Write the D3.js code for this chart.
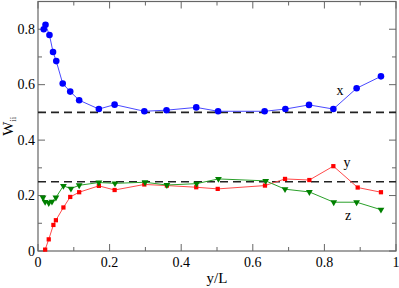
<!DOCTYPE html>
<html>
<head>
<meta charset="utf-8">
<script src="https://cdn.jsdelivr.net/npm/d3@7"></script>
<style>
  body { margin: 0; background: white; }
  svg { display: block; }
</style>
</head>
<body>
<div id="chart"></div>
<script>
// Données
const xX = [0.016, 0.021, 0.032, 0.042, 0.051, 0.069, 0.090, 0.115, 0.170, 0.214, 0.297, 0.359, 0.442, 0.503, 0.633, 0.691, 0.757, 0.825, 0.890, 0.958];
const wX = [0.800, 0.816, 0.779, 0.718, 0.685, 0.604, 0.575, 0.544, 0.512, 0.528, 0.504, 0.508, 0.518, 0.504, 0.504, 0.512, 0.527, 0.512, 0.587, 0.630];

const xY = [0.020, 0.030, 0.043, 0.050, 0.071, 0.090, 0.115, 0.170, 0.214, 0.297, 0.360, 0.442, 0.502, 0.634, 0.690, 0.758, 0.825, 0.893, 0.958];
const wY = [0.005, 0.042, 0.094, 0.111, 0.157, 0.195, 0.212, 0.235, 0.220, 0.240, 0.236, 0.230, 0.224, 0.236, 0.260, 0.256, 0.306, 0.229, 0.212];

const xZ = [0.014, 0.020, 0.030, 0.039, 0.050, 0.071, 0.092, 0.115, 0.170, 0.215, 0.299, 0.360, 0.443, 0.504, 0.636, 0.690, 0.758, 0.826, 0.890, 0.958];
const wZ = [0.193, 0.177, 0.173, 0.178, 0.193, 0.235, 0.225, 0.237, 0.247, 0.244, 0.248, 0.238, 0.243, 0.260, 0.253, 0.223, 0.213, 0.176, 0.176, 0.149];

const refLines = [0.5, 0.25];
const xTicks = [0, 0.2, 0.4, 0.6, 0.8, 1];
const yTicks = [0, 0.2, 0.4, 0.6, 0.8];

const W = 399, H = 288;
const marge = { left: 38, right: 3, top: 1.5, bottom: 37 };
const police = "'Liberation Serif', 'Times New Roman', 'DejaVu Serif', serif";

const svg = d3.select("#chart").append("svg")
    .attr("width", W).attr("height", H)
    .attr("font-family", police);

const x = d3.scaleLinear().domain([0, 1]).range([marge.left, W - marge.right]);
const y = d3.scaleLinear().domain([0, 0.9]).range([H - marge.bottom, marge.top]);

// Cadre
const gris = "#666";
svg.append("rect")
    .attr("x", x(0)).attr("y", y(0.9))
    .attr("width", x(1) - x(0)).attr("height", y(0) - y(0.9))
    .attr("fill", "none").attr("stroke", gris).attr("stroke-width", 1.2);

// Graduations vers l'intérieur (majeures + mineures), sur les 4 côtés
const minX = d3.range(0.1, 1, 0.2);
const minY = d3.range(0.1, 0.9, 0.2);
function tick(x1, y1, x2, y2) {
    svg.append("line").attr("x1", x1).attr("y1", y1).attr("x2", x2).attr("y2", y2)
        .attr("stroke", gris).attr("stroke-width", 1);
}
xTicks.concat(minX).forEach(v => {
    const l = xTicks.includes(v) ? 7 : 4;
    tick(x(v), y(0), x(v), y(0) - l);
    tick(x(v), y(0.9), x(v), y(0.9) + l);
});
yTicks.concat(minY).forEach(v => {
    const l = yTicks.includes(v) ? 7 : 4;
    tick(x(0), y(v), x(0) + l, y(v));
    tick(x(1), y(v), x(1) - l, y(v));
});

// Étiquettes des graduations
svg.selectAll(".xlab").data(xTicks).enter().append("text")
    .attr("x", d => x(d)).attr("y", y(0) + 16)
    .attr("text-anchor", "middle").attr("font-size", 14)
    .text(d => d3.format("~g")(d));
svg.selectAll(".ylab").data(yTicks).enter().append("text")
    .attr("x", x(0) - 3).attr("y", d => y(d) + 4.5)
    .attr("text-anchor", "end").attr("font-size", 14)
    .text(d => d3.format("~g")(d));

// Titres des axes
svg.append("text")
    .attr("x", (x(0) + x(1)) / 2).attr("y", H - 5)
    .attr("text-anchor", "middle").attr("font-size", 15)
    .text("y/L");
const ylab = svg.append("text")
    .attr("transform", "translate(13," + ((y(0) + y(0.9)) / 2) + ") rotate(-90)")
    .attr("text-anchor", "middle").attr("font-size", 15);
ylab.append("tspan").text("W");
ylab.append("tspan").attr("font-size", 9).attr("dy", 3).text("ii");

// Lignes de référence pointillées
refLines.forEach(v => {
    svg.append("line")
        .attr("x1", x(0)).attr("x2", x(1)).attr("y1", y(v)).attr("y2", y(v))
        .attr("stroke", "#222").attr("stroke-width", 1.6)
        .attr("stroke-dasharray", "8,5");
});

const ligne = d3.line().x(d => x(d[0])).y(d => y(d[1]));

function serie(xs, ws, couleurLigne, couleur, symbole, taille) {
    const pts = xs.map((v, i) => [v, ws[i]]);
    svg.append("path").datum(pts)
        .attr("d", ligne).attr("fill", "none")
        .attr("stroke", couleurLigne).attr("stroke-width", 1);
    svg.selectAll(null).data(pts).enter().append("path")
        .attr("d", d3.symbol().type(symbole).size(taille))
        .attr("transform", d => "translate(" + x(d[0]) + "," + y(d[1]) + ")")
        .attr("fill", couleur);
}

serie(xX, wX, "#4a4aff", "#0000ff", d3.symbolCircle, 34);
serie(xY, wY, "#ff4a4a", "#ff0000", d3.symbolSquare, 18);

// Triangle pointe en bas pour z
const triangleBas = {
    draw(ctx, size) {
        const s = Math.sqrt(size * 4 / Math.sqrt(3));
        const h = s * Math.sqrt(3) / 2;
        ctx.moveTo(-s / 2, -h / 3);
        ctx.lineTo(s / 2, -h / 3);
        ctx.lineTo(0, 2 * h / 3);
        ctx.closePath();
    }
};
serie(xZ, wZ, "#2aa02a", "#008000", triangleBas, 20);

// Noms des séries
svg.append("text").attr("x", 340).attr("y", 95).attr("font-size", 14).attr("text-anchor", "middle").text("x");
svg.append("text").attr("x", 347).attr("y", 167).attr("font-size", 14).attr("text-anchor", "middle").text("y");
svg.append("text").attr("x", 348).attr("y", 220).attr("font-size", 14).attr("text-anchor", "middle").text("z");
</script>
</body>
</html>
